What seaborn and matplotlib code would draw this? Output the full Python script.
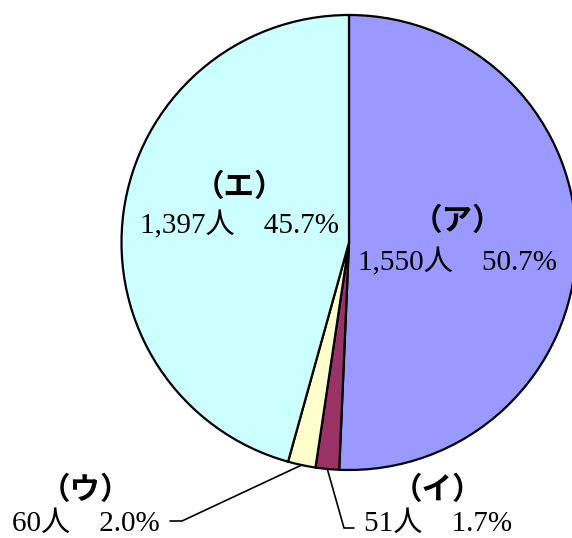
import numpy as np
import matplotlib
matplotlib.use("Agg")
import matplotlib.pyplot as plt
import seaborn as sns

sns.set_theme(style="white")
plt.rcParams['font.family'] = ['Liberation Serif', 'Noto Sans CJK JP']
plt.rcParams['text.color'] = 'black'

# data
categories = ["（ア）", "（イ）", "（ウ）", "（エ）"]
counts = [1550, 51, 60, 1397]
percents = ["50.7%", "1.7%", "2.0%", "45.7%"]
colors = ["#9999FF", "#993366", "#FFFFCC", "#CCFFFF"]

fig = plt.figure(figsize=(5.72, 5.38), dpi=100)
ax = fig.add_axes([0, 0, 1, 1])

cx, cy, r = 349, 295.5, 227.5
wedges, _ = ax.pie(counts, colors=colors, startangle=90, counterclock=False,
                   center=(cx, cy), radius=r, frame=True,
                   wedgeprops={"edgecolor": "black", "linewidth": 1.6})
ax.set_xlim(0, 572)
ax.set_ylim(0, 538)
ax.set_aspect("equal")
ax.axis("off")

fs = 21
# label positions (pixels from top-left of the reference)
label_pos = [(457, 222, 262), (438, 491, 524), (86, 491, 524), (239, 188, 225)]
for cat, n, pct, (x, y1, y2) in zip(categories, counts, percents, label_pos):
    ax.text(x, 538 - y1, cat, ha="center", va="center", fontsize=fs + 1, fontweight="bold")
    ax.text(x, 538 - y2, f"{n:,}人　{pct}", ha="center", va="center", fontsize=fs)

# leader lines for the small slices
def edge_point(w):
    ang = np.deg2rad((w.theta1 + w.theta2) / 2)
    return cx + r * np.cos(ang), cy + r * np.sin(ang)

ex, ey = edge_point(wedges[1])
ax.plot([ex, 344, 354], [ey, 538 - 528, 538 - 528], color="black", lw=1.2)
ex, ey = edge_point(wedges[2])
ax.plot([ex, 182, 170], [ey, 538 - 521, 538 - 521], color="black", lw=1.2)

fig.savefig("out.png", dpi=100, facecolor="white")
